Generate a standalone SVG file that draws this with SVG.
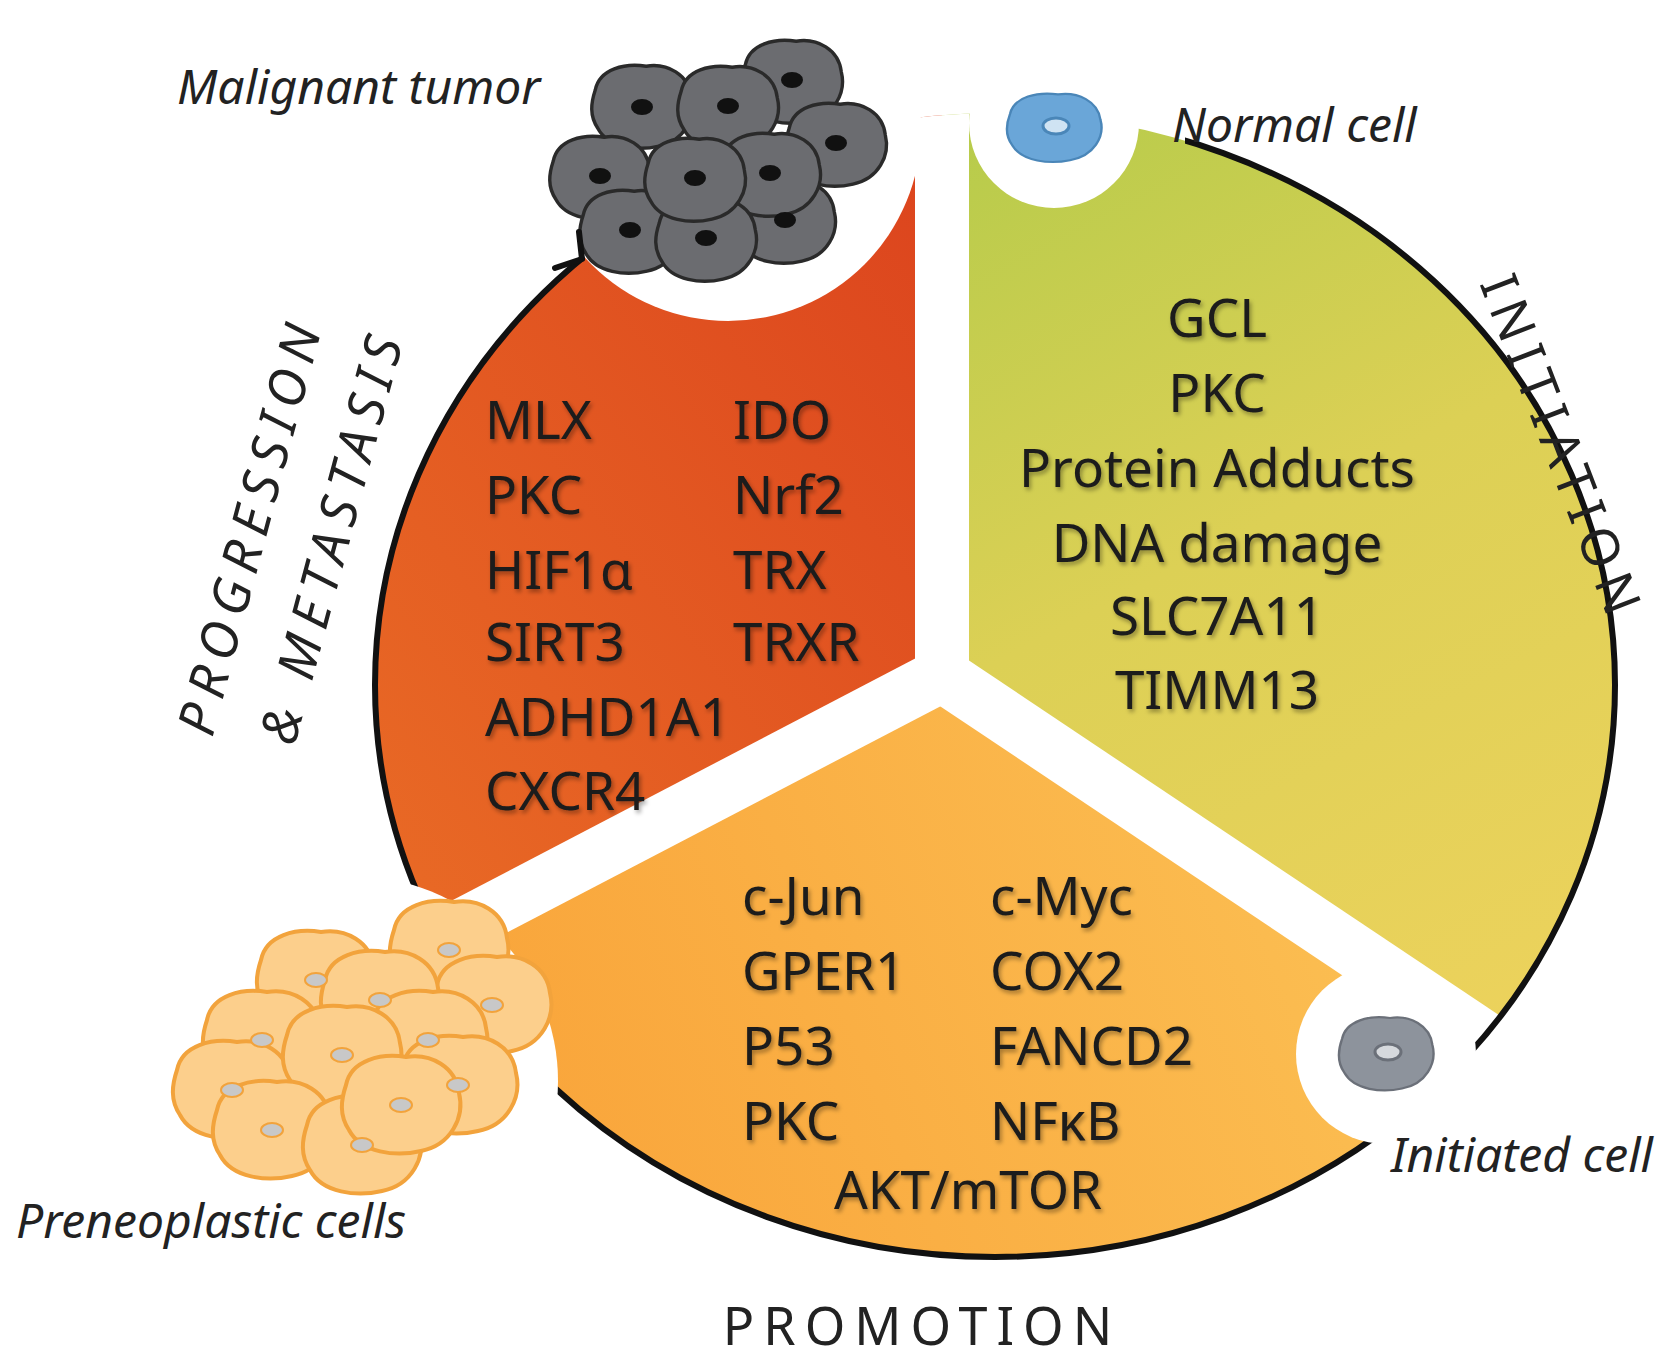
<svg xmlns="http://www.w3.org/2000/svg" width="1670" height="1363" viewBox="0 0 1670 1363">
<defs>
<style>
.t{font-family:"Noto Sans","Liberation Sans",sans-serif;font-size:53px;fill:#1c1c1c;filter:url(#sh)}
.i{font-family:"Noto Sans","Liberation Sans",sans-serif;font-size:48px;font-style:italic;fill:#222}
.s{font-family:"Noto Sans","Liberation Sans",sans-serif;font-size:52px;fill:#222;letter-spacing:9px}
.tc{fill:#6b6c70;stroke:#2a2a2a;stroke-width:4}
.pc{fill:#fccf8c;stroke:#f2a33c;stroke-width:4}
</style>
<filter id="sh" x="-10%" y="-20%" width="120%" height="150%"><feDropShadow dx="2" dy="3" stdDeviation="2" flood-color="#000" flood-opacity="0.35"/></filter>
<clipPath id="ec"><ellipse cx="995" cy="685" rx="620" ry="572"/></clipPath>
<mask id="sm"><rect width="1670" height="1363" fill="#fff"/><polygon points="585,272 585,0 1185,0 1185,172 900,260" fill="#000"/></mask>
<linearGradient id="gl" x1="0" y1="1" x2="1" y2="0"><stop offset="0" stop-color="#f7942e"/><stop offset="1" stop-color="#d6331a"/></linearGradient>
<linearGradient id="gr" x1="0" y1="0" x2="0.4" y2="1"><stop offset="0" stop-color="#8cc63f"/><stop offset="0.5" stop-color="#dcd055"/><stop offset="1" stop-color="#fad462"/></linearGradient>
<linearGradient id="gb" x1="0" y1="0.5" x2="1" y2="0.3"><stop offset="0" stop-color="#f78a22"/><stop offset="1" stop-color="#fdd466"/></linearGradient>
<path id="blob" d="M-55,-20 C-50,-45 -20,-52 5,-48 C30,-52 55,-38 58,-12 C64,12 50,40 20,46 C-5,52 -40,48 -52,25 C-62,10 -60,-5 -55,-20 Z"/>
</defs>
<rect width="1670" height="1363" fill="#fff"/>
<g id="sectors" clip-path="url(#ec)">
<polygon points="942,675 942,-500 -500,-500 -408,1380" fill="url(#gl)"/>
<polygon points="942,675 942,-500 2500,-500 2256,1554" fill="url(#gr)"/>
<polygon points="942,675 -408,1380 -408,2000 2256,2000 2256,1554" fill="url(#gb)"/>
<g stroke="#fff" stroke-width="54"><line x1="942" y1="675" x2="942" y2="-500"/><line x1="942" y1="675" x2="-408" y2="1380"/><line x1="942" y1="675" x2="2256" y2="1554"/></g>
</g>
<g id="connectors" fill="none" stroke="#111" stroke-width="6" mask="url(#sm)">
<ellipse cx="995" cy="685" rx="620" ry="572"/>
</g>
<g id="cutouts" fill="#fff">
<circle cx="728" cy="128" r="193"/><circle cx="1054" cy="123" r="85"/><circle cx="1386" cy="1054" r="90"/><circle cx="353" cy="1081" r="205"/>
</g>
<g id="tumor">
<g class="tc">
<use href="#blob" transform="translate(792,82) scale(0.85)"/><use href="#blob" transform="translate(642,107) scale(0.85)"/><use href="#blob" transform="translate(728,108) scale(0.85)"/><use href="#blob" transform="translate(836,145) scale(0.85)"/><use href="#blob" transform="translate(600,178) scale(0.85)"/><use href="#blob" transform="translate(785,222) scale(0.85)"/><use href="#blob" transform="translate(630,232) scale(0.85)"/><use href="#blob" transform="translate(770,175) scale(0.85)"/><use href="#blob" transform="translate(706,240) scale(0.85)"/><use href="#blob" transform="translate(695,180) scale(0.85)"/>
</g>
<g fill="#111"><ellipse cx="792" cy="80" rx="11" ry="8"/><ellipse cx="642" cy="107" rx="11" ry="8"/><ellipse cx="728" cy="106" rx="11" ry="8"/><ellipse cx="836" cy="143" rx="11" ry="8"/><ellipse cx="600" cy="176" rx="11" ry="8"/><ellipse cx="785" cy="220" rx="11" ry="8"/><ellipse cx="630" cy="230" rx="11" ry="8"/><ellipse cx="770" cy="173" rx="11" ry="8"/><ellipse cx="706" cy="238" rx="11" ry="8"/><ellipse cx="695" cy="178" rx="11" ry="8"/></g>
<text class="i" x="177" y="104">Malignant tumor</text>
</g>
<path id="arrowhead" d="M555,268 L582,259 L579,232" fill="none" stroke="#111" stroke-width="6" stroke-linejoin="round" stroke-linecap="round"/>
<g id="normal">
<use href="#blob" transform="translate(1054,128) scale(0.8,0.7)" fill="#6aa6d8" stroke="#4a86b8" stroke-width="3"/>
<ellipse cx="1056" cy="126" rx="13" ry="8" fill="#cfe3f3" stroke="#4a86b8" stroke-width="3"/>
<text class="i" x="1172" y="142">Normal cell</text>
</g>
<g id="initiated">
<use href="#blob" transform="translate(1386,1054) scale(0.8,0.75)" fill="#8d939c" stroke="#6b7079" stroke-width="3"/>
<ellipse cx="1388" cy="1052" rx="13" ry="8" fill="#d6d9dd" stroke="#6b7079" stroke-width="3"/>
<text class="i" x="1391" y="1172">Initiated cell</text>
</g>
<g id="preneoplastic">
<g class="pc">
<use href="#blob" transform="translate(449,950)"/><use href="#blob" transform="translate(316,980)"/><use href="#blob" transform="translate(492,1005)"/><use href="#blob" transform="translate(380,1000)"/><use href="#blob" transform="translate(262,1040)"/><use href="#blob" transform="translate(428,1040)"/><use href="#blob" transform="translate(458,1085)"/><use href="#blob" transform="translate(232,1090)"/><use href="#blob" transform="translate(342,1055)"/><use href="#blob" transform="translate(272,1130)"/><use href="#blob" transform="translate(362,1145)"/><use href="#blob" transform="translate(401,1105)"/>
</g>
<g fill="#c8c8c8" stroke="#f2a33c" stroke-width="2"><ellipse cx="449" cy="950" rx="11" ry="7"/><ellipse cx="316" cy="980" rx="11" ry="7"/><ellipse cx="492" cy="1005" rx="11" ry="7"/><ellipse cx="380" cy="1000" rx="11" ry="7"/><ellipse cx="262" cy="1040" rx="11" ry="7"/><ellipse cx="428" cy="1040" rx="11" ry="7"/><ellipse cx="458" cy="1085" rx="11" ry="7"/><ellipse cx="232" cy="1090" rx="11" ry="7"/><ellipse cx="342" cy="1055" rx="11" ry="7"/><ellipse cx="272" cy="1130" rx="11" ry="7"/><ellipse cx="362" cy="1145" rx="11" ry="7"/><ellipse cx="401" cy="1105" rx="11" ry="7"/></g>
<text class="i" x="16" y="1238">Preneoplastic cells</text>
</g>
<g id="progression">
<text class="t" x="485" y="439">MLX</text><text class="t" x="485" y="514">PKC</text><text class="t" x="485" y="589">HIF1α</text><text class="t" x="485" y="661">SIRT3</text><text class="t" x="485" y="736">ADHD1A1</text><text class="t" x="485" y="810">CXCR4</text>
<text class="t" x="733" y="439">IDO</text><text class="t" x="733" y="514">Nrf2</text><text class="t" x="733" y="589">TRX</text><text class="t" x="733" y="661">TRXR</text>
<text class="s" transform="translate(268,530) rotate(-75)" text-anchor="middle" font-style="italic">PROGRESSION</text>
<text class="s" transform="translate(350,540) rotate(-75)" text-anchor="middle" font-style="italic">&amp; METASTASIS</text>
</g>
<g id="initiation" text-anchor="middle">
<text class="t" x="1217" y="337">GCL</text><text class="t" x="1217" y="412">PKC</text><text class="t" x="1217" y="487">Protein Adducts</text><text class="t" x="1217" y="562">DNA damage</text><text class="t" x="1217" y="635">SLC7A11</text><text class="t" x="1217" y="709">TIMM13</text>
<text class="s" transform="translate(1545,455) rotate(69)">INITIATION</text>
</g>
<g id="promotion">
<text class="t" x="742" y="915">c-Jun</text><text class="t" x="742" y="990">GPER1</text><text class="t" x="742" y="1065">P53</text><text class="t" x="742" y="1140">PKC</text>
<text class="t" x="990" y="915">c-Myc</text><text class="t" x="990" y="990">COX2</text><text class="t" x="990" y="1065">FANCD2</text><text class="t" x="990" y="1140">NFκB</text>
<text class="t" x="968" y="1209" text-anchor="middle">AKT/mTOR</text>
<text class="s" x="922" y="1345" text-anchor="middle">PROMOTION</text>
</g>
</svg>
